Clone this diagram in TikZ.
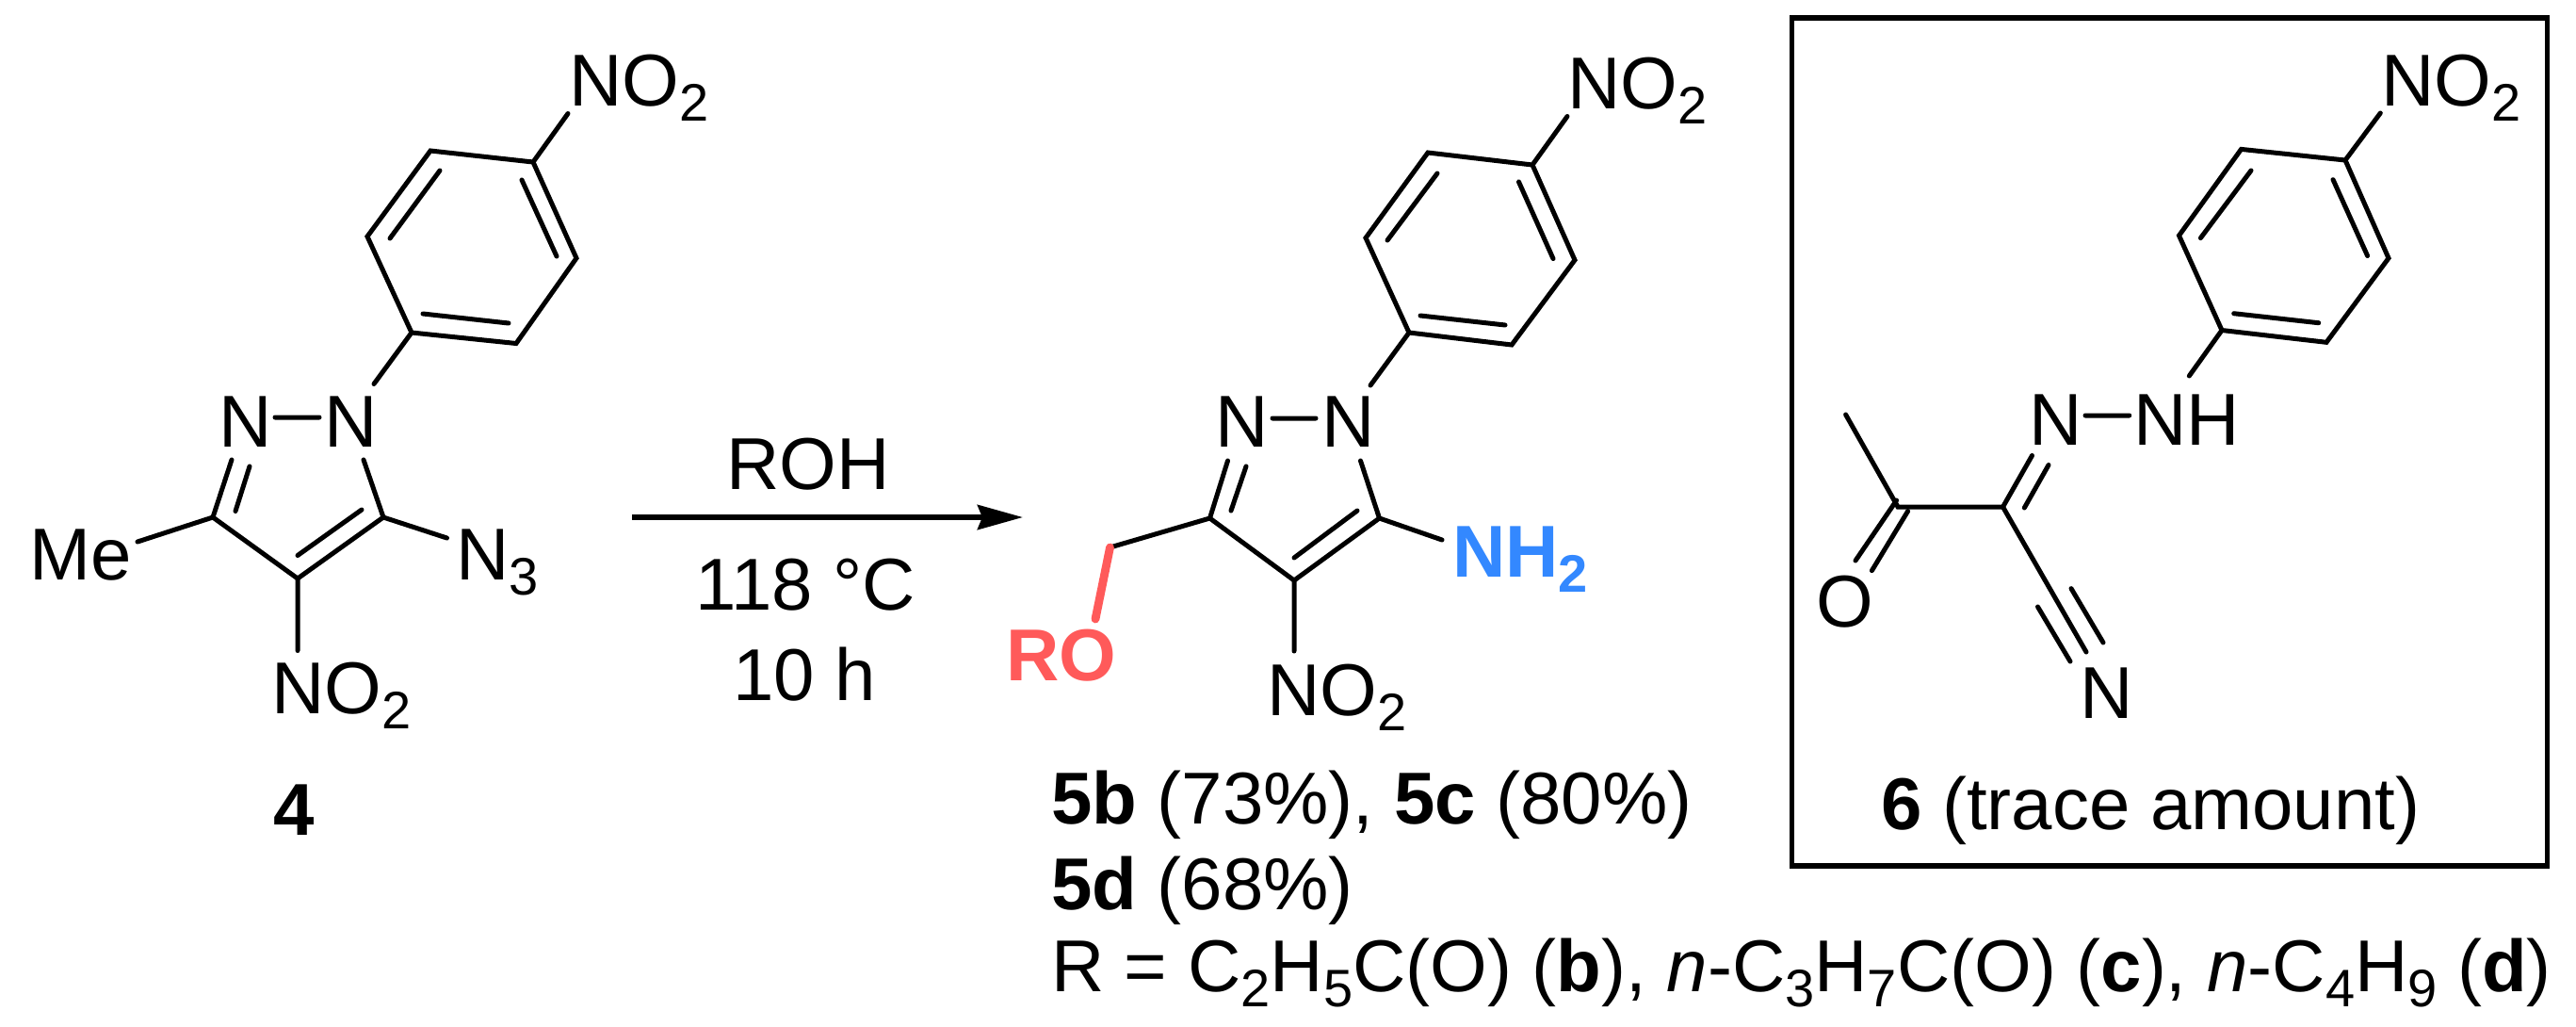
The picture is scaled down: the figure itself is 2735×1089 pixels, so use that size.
\documentclass[tikz,border=0pt]{standalone}
\usepackage{fontspec}
\setmainfont{Liberation Sans}
\usetikzlibrary{arrows.meta}
\definecolor{rored}{RGB}{255,90,90}
\definecolor{nhblue}{RGB}{51,136,255}
\newcommand{\chemsub}[1]{\raisebox{-8pt}{\fontsize{28}{30}\selectfont #1}}
\tikzset{
  x=0.5pt,y=-0.5pt,
  bond/.style={line width=2.5pt,line cap=round,line join=miter,black},
  redbond/.style={line width=4.4pt,line cap=round,rored},
  atom/.style={anchor=base west,inner sep=0pt,outer sep=0pt,font=\fontsize{39}{44}\selectfont,text=black},
  caption/.style={atom},
  framebox/.style={draw=black,line width=2.75pt,fill=none},
  rxnarrow/.style={line width=3pt,-{Stealth[length=24pt,width=13pt,inset=2.5pt]}}
}
\begin{document}
\begin{tikzpicture}
\useasboundingbox (0,0) rectangle (2735,1089);
% ---------- compound 4
\coordinate (a1) at (437,353);\coordinate (a2) at (548,364.5);\coordinate (a3) at (612,274);
\coordinate (a4) at (566,172);\coordinate (a5) at (457,160);\coordinate (a6) at (390,251);
\coordinate (a1i) at (449,333);\coordinate (a2i) at (540,343);
\coordinate (a3i) at (591,272);\coordinate (a4i) at (554,191);
\coordinate (a5i) at (467,181);\coordinate (a6i) at (414,253);
\coordinate (ano) at (603,120.5);
\node[atom] (aNOtop) at (604,112.3) {NO\chemsub{2}};
\draw[bond] (a1)--(a2)--(a3)--(a4)--(a5)--(a6)--cycle;
\draw[bond] (a1i)--(a2i) (a3i)--(a4i) (a5i)--(a6i) (a4)--(ano);
\node[atom] (aN2) at (232,474) {N};
\node[atom] (aN1) at (344.5,474) {N};
\coordinate (aNNa) at (292,443);\coordinate (aNNb) at (339,443);
\coordinate (aN1t) at (397,407.5);\coordinate (aN1b) at (386,488);
\coordinate (aN2b) at (246,488);\coordinate (aN2i) at (265,495);
\coordinate (aC3) at (226,549);\coordinate (aC3i) at (250,542.5);
\coordinate (aC4) at (316,614);\coordinate (aC4i) at (316,589.5);
\coordinate (aC5) at (407,549);\coordinate (aC5i) at (384,541);
\coordinate (aN3b) at (474.5,571);\coordinate (aMeb) at (146,575);\coordinate (aNOb) at (316,690.5);
\draw[bond] (aNNa)--(aNNb) (aN1t)--(a1) (aN2b)--(aC3)--(aC4)--(aC5)--(aN1b);
\draw[bond] (aN2i)--(aC3i) (aC4i)--(aC5i) (aC5)--(aN3b) (aC3)--(aMeb) (aC4)--(aNOb);
\node[atom] (aN3) at (484,615) {N\chemsub{3}};
\node[atom] (aMe) at (32,615) {Me};
\node[atom] (aNO) at (288,757) {NO\chemsub{2}};
\node[atom] (lab4) at (290.5,886) {\textbf{4}};
% ---------- arrow
\coordinate (arrS) at (671,549);\coordinate (arrE) at (1086,549);
\draw[rxnarrow] (arrS)--(arrE);
\node[atom,anchor=base] (roh) at (858,519) {ROH};
\node[atom,anchor=base] (temp) at (855.5,647) {118 °C};
\node[atom,anchor=base] (time) at (854.5,743) {10 h};
% ---------- compound 5
\coordinate (b1) at (1496,353);\coordinate (b2) at (1605,366);\coordinate (b3) at (1672,276);
\coordinate (b4) at (1627,175);\coordinate (b5) at (1516,162);\coordinate (b6) at (1450,252.5);
\coordinate (b1i) at (1508,335);\coordinate (b2i) at (1598,345);
\coordinate (b3i) at (1649,274.5);\coordinate (b4i) at (1612.5,193);
\coordinate (b5i) at (1526,184);\coordinate (b6i) at (1473,255);
\coordinate (bno) at (1664,123.5);
\draw[bond] (b1)--(b2)--(b3)--(b4)--(b5)--(b6)--cycle;
\draw[bond] (b1i)--(b2i) (b3i)--(b4i) (b5i)--(b6i) (b4)--(bno);
\node[atom] (bNOtop) at (1664.5,115) {NO\chemsub{2}};
\node[atom] (bN2) at (1290.5,474.5) {N};
\node[atom] (bN1) at (1403,474.5) {N};
\coordinate (bNNa) at (1351,444);\coordinate (bNNb) at (1397,444);
\coordinate (bN1t) at (1455,409);\coordinate (bN1b) at (1444.5,489);
\coordinate (bN2b) at (1303.5,489);\coordinate (bN2i) at (1323,495);
\coordinate (bC3) at (1284.5,550);\coordinate (bC3i) at (1307,542);
\coordinate (bC4) at (1374,616);\coordinate (bC4i) at (1374,592);
\coordinate (bC5) at (1464.5,550);\coordinate (bC5i) at (1441,542);
\coordinate (bNHb) at (1531,573);\coordinate (bNOb) at (1374,691);
\coordinate (bCH) at (1178.5,581);\coordinate (bROb) at (1163,657);
\draw[bond] (bNNa)--(bNNb) (bN1t)--(b1) (bN2b)--(bC3)--(bC4)--(bC5)--(bN1b);
\draw[bond] (bN2i)--(bC3i) (bC4i)--(bC5i) (bC5)--(bNHb) (bC4)--(bNOb) (bC3)--(bCH);
\draw[redbond] (bCH)--(bROb);
\node[atom,text=nhblue] (bNH) at (1542,612) {\textbf{NH\chemsub{\textbf{2}}}};
\node[atom,text=rored] (bRO) at (1068,722.5) {\textbf{RO}};
\node[atom] (bNO) at (1345,759) {NO\chemsub{2}};
\node[caption] (cap5a) at (1116,874.5) {\textbf{5b} (73\%), \textbf{5c} (80\%)};
\node[caption] (cap5b) at (1116,965.5) {\textbf{5d} (68\%)};
\node[caption] (cap5c) at (1116,1052.5) {R = C\chemsub{2}H\chemsub{5}C(O) (\textbf{b}), \textit{n}-C\chemsub{3}H\chemsub{7}C(O) (\textbf{c}), \textit{n}-C\chemsub{4}H\chemsub{9} (\textbf{d})};
% ---------- compound 6
\node[framebox,anchor=center,minimum width=401pt,minimum height=450pt,inner sep=0pt,outer sep=0pt] (frame6) at (2303.65,469) {};
\coordinate (c1) at (2359,350.5);\coordinate (c2) at (2470,363.3);\coordinate (c3) at (2536,274);
\coordinate (c4) at (2490,170);\coordinate (c5) at (2379.5,158.4);\coordinate (c6) at (2313.5,250);
\coordinate (c1i) at (2371.7,332.7);\coordinate (c2i) at (2461.7,342.7);
\coordinate (c3i) at (2513.6,271.5);\coordinate (c4i) at (2477,190.6);
\coordinate (c5i) at (2390,181);\coordinate (c6i) at (2336.4,252.6);
\coordinate (cno) at (2527.3,120);
\draw[bond] (c1)--(c2)--(c3)--(c4)--(c5)--(c6)--cycle;
\draw[bond] (c1i)--(c2i) (c3i)--(c4i) (c5i)--(c6i) (c4)--(cno);
\node[atom] (cNOtop) at (2528,112.3) {NO\chemsub{2}};
\node[atom] (cN) at (2154,472.5) {N};
\node[atom] (cNH) at (2265,472.5) {NH};
\coordinate (cNHt) at (2324.3,399);\coordinate (cNNa) at (2214,441);\coordinate (cNNb) at (2260.7,441);
\coordinate (cCa) at (2126.5,538);\coordinate (cCb) at (2015,538);
\coordinate (cNd) at (2157.5,483.5);\coordinate (cNdi) at (2175,493.5);\coordinate (cCai) at (2149.3,539);
\coordinate (cMe) at (1959.6,440);
\coordinate (cOa) at (2013.6,531);\coordinate (cOb) at (1970,595);
\coordinate (cOc) at (2025.6,542.5);\coordinate (cOd) at (1987.4,605.6);
\coordinate (cNc) at (2215,692);
\coordinate (cTa) at (2163.5,644);\coordinate (cTb) at (2198,702);
\coordinate (cTc) at (2199,624.6);\coordinate (cTd) at (2233,682);
\draw[bond] (c1)--(cNHt) (cNNa)--(cNNb) (cNd)--(cCa)--(cCb)--(cMe) (cNdi)--(cCai);
\draw[bond] (cOa)--(cOb) (cOc)--(cOd) (cCa)--(cNc) (cTa)--(cTb) (cTc)--(cTd);
\node[atom] (cO) at (1928,665) {O};
\node[atom] (cNt) at (2208,762) {N};
\node[caption] (cap6) at (1997,880) {\textbf{6} (trace amount)};
\end{tikzpicture}
\end{document}
